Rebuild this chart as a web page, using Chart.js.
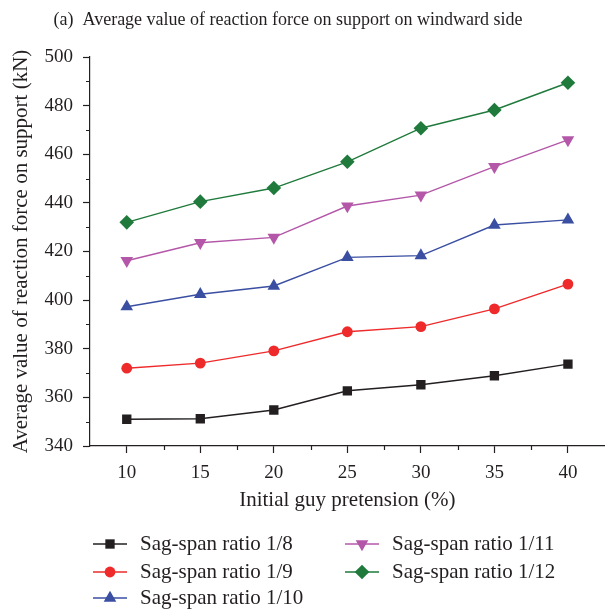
<!DOCTYPE html>
<html>
<head>
<meta charset="utf-8">
<script src="https://cdn.jsdelivr.net/npm/chart.js@4/dist/chart.umd.min.js"></script>
<style>
  html, body { margin: 0; padding: 0; background: #fff; overflow: hidden; }
  #forceChart { display: block; }
</style>
</head>
<body>
<canvas id="forceChart" width="612" height="610"></canvas>
<script>
// guy pretension (%) on the x axis
const pretension = [10, 15, 20, 25, 30, 35, 40];

// average reaction force on windward support (kN), one list per sag-span ratio
const ratio8  = [351.0, 351.2, 354.8, 362.7, 365.2, 368.9, 373.7];
const ratio9  = [372.0, 374.1, 379.1, 387.0, 389.1, 396.4, 406.6];
const ratio10 = [397.3, 402.4, 405.8, 417.6, 418.3, 430.9, 433.0];
const ratio11 = [416.2, 423.6, 425.8, 438.7, 443.2, 454.9, 465.9];
const ratio12 = [432.0, 440.5, 446.1, 456.9, 470.7, 478.2, 489.4];

const seriesNames = [
  'Sag-span ratio 1/8',
  'Sag-span ratio 1/9',
  'Sag-span ratio 1/10',
  'Sag-span ratio 1/11',
  'Sag-span ratio 1/12'
];

const yTicks = [340, 360, 380, 400, 420, 440, 460, 480, 500];
const xMinorTicks = [12.5, 17.5, 22.5, 27.5, 32.5, 37.5];
const yMinorTicks = [350, 370, 390, 410, 430, 450, 470, 490];

const chartTitle = '(a)  Average value of reaction force on support on windward side';
const xTitle = 'Initial guy pretension (%)';
const yTitle = 'Average value of reaction force on support (kN)';

const ink = '#231f20';
const serif = '"Liberation Serif", "DejaVu Serif", serif';

const styles = [
  { color: '#231f20', pointStyle: 'rect',     radius: 6.6, rotation: 0 },
  { color: '#ee2a2a', pointStyle: 'circle',   radius: 5.4, rotation: 0 },
  { color: '#3a4fa2', pointStyle: 'triangle', radius: 7.3, rotation: 0 },
  { color: '#b457a8', pointStyle: 'triangle', radius: 7.3, rotation: 180 },
  { color: '#1f7a3c', pointStyle: 'rectRot',  radius: 7.3, rotation: 0 }
];

function toPoints(values) {
  return values.map((v, i) => ({ x: pretension[i], y: v }));
}

const allSeries = [ratio8, ratio9, ratio10, ratio11, ratio12];

const datasets = allSeries.map((values, i) => ({
  label: seriesNames[i],
  data: toPoints(values),
  borderColor: styles[i].color,
  backgroundColor: styles[i].color,
  borderWidth: 1.4,
  pointStyle: styles[i].pointStyle,
  pointRotation: styles[i].rotation,
  pointRadius: styles[i].radius,
  pointHoverRadius: styles[i].radius,
  pointBorderWidth: 0,
  pointBackgroundColor: styles[i].color,
  tension: 0
}));

// heading above the plot
const titlePlugin = {
  id: 'figTitle',
  afterDraw(chart) {
    const ctx = chart.ctx;
    ctx.save();
    ctx.fillStyle = ink;
    ctx.font = '18px ' + serif;
    ctx.textAlign = 'center';
    ctx.textBaseline = 'middle';
    ctx.fillText(chartTitle, 288, 20);
    ctx.restore();
  }
};

// small outward ticks between the labelled ones
const minorTicksPlugin = {
  id: 'minorTicks',
  afterDraw(chart) {
    const ctx = chart.ctx;
    const xs = chart.scales.x;
    const ys = chart.scales.y;
    const area = chart.chartArea;
    ctx.save();
    ctx.strokeStyle = ink;
    ctx.lineWidth = 1.2;
    ctx.beginPath();
    xMinorTicks.forEach(v => {
      const px = Math.round(xs.getPixelForValue(v)) + 0.5;
      ctx.moveTo(px, area.bottom);
      ctx.lineTo(px, area.bottom + 4);
    });
    yMinorTicks.forEach(v => {
      const py = Math.round(ys.getPixelForValue(v)) + 0.5;
      ctx.moveTo(area.left, py);
      ctx.lineTo(area.left - 4, py);
    });
    ctx.stroke();
    ctx.restore();
  }
};

// two-column legend under the axis, filled column by column
const legendPlugin = {
  id: 'columnLegend',
  afterDraw(chart) {
    const ctx = chart.ctx;
    const columns = [93, 345];
    const rows = [544, 572, 598];
    ctx.save();
    chart.data.datasets.forEach((ds, i) => {
      const col = Math.floor(i / 3);
      const row = i % 3;
      const x0 = columns[col];
      const y = rows[row];
      ctx.strokeStyle = ds.borderColor;
      ctx.lineWidth = 1.4;
      ctx.beginPath();
      ctx.moveTo(x0, y);
      ctx.lineTo(x0 + 34, y);
      ctx.stroke();
      ctx.fillStyle = ds.pointBackgroundColor;
      Chart.helpers.drawPoint(ctx, {
        pointStyle: ds.pointStyle,
        rotation: ds.pointRotation,
        radius: ds.pointRadius,
        borderWidth: 0
      }, x0 + 17, y);
      ctx.fillStyle = ink;
      ctx.font = '21px ' + serif;
      ctx.textAlign = 'left';
      ctx.textBaseline = 'middle';
      ctx.fillText(ds.label, x0 + 47, y);
    });
    ctx.restore();
  }
};

const axisGrid = {
  display: true,
  drawOnChartArea: false,
  drawTicks: true,
  tickLength: 7,
  tickColor: ink,
  tickWidth: 1.2
};

new Chart(document.getElementById('forceChart'), {
  type: 'line',
  data: { datasets },
  options: {
    responsive: false,
    animation: false,
    layout: { padding: { top: 57, left: 0, right: 0, bottom: 90 } },
    plugins: {
      legend: { display: false },
      title: { display: false },
      tooltip: { enabled: false }
    },
    scales: {
      x: {
        type: 'linear',
        min: 7.5,
        max: 42.5,
        afterBuildTicks: scale => { scale.ticks = pretension.map(v => ({ value: v })); },
        afterFit: scale => { scale.height = 74; },
        grid: axisGrid,
        border: { display: true, color: ink, width: 1.2 },
        ticks: {
          color: ink,
          font: { family: serif, size: 19 },
          padding: 9,
          maxRotation: 0
        },
        title: {
          display: true,
          text: xTitle,
          color: ink,
          font: { family: serif, size: 21 },
          padding: { top: 0, bottom: 7 }
        }
      },
      y: {
        min: 340,
        max: 500,
        afterBuildTicks: scale => { scale.ticks = yTicks.map(v => ({ value: v })); },
        afterFit: scale => { scale.width = 90; },
        grid: axisGrid,
        border: { display: true, color: ink, width: 1.2 },
        ticks: {
          color: ink,
          font: { family: serif, size: 19 },
          padding: 10
        },
        title: {
          display: true,
          text: yTitle,
          color: ink,
          font: { family: serif, size: 21 },
          padding: { top: 9, bottom: 0 }
        }
      }
    }
  },
  plugins: [titlePlugin, minorTicksPlugin, legendPlugin]
});
</script>
</body>
</html>
